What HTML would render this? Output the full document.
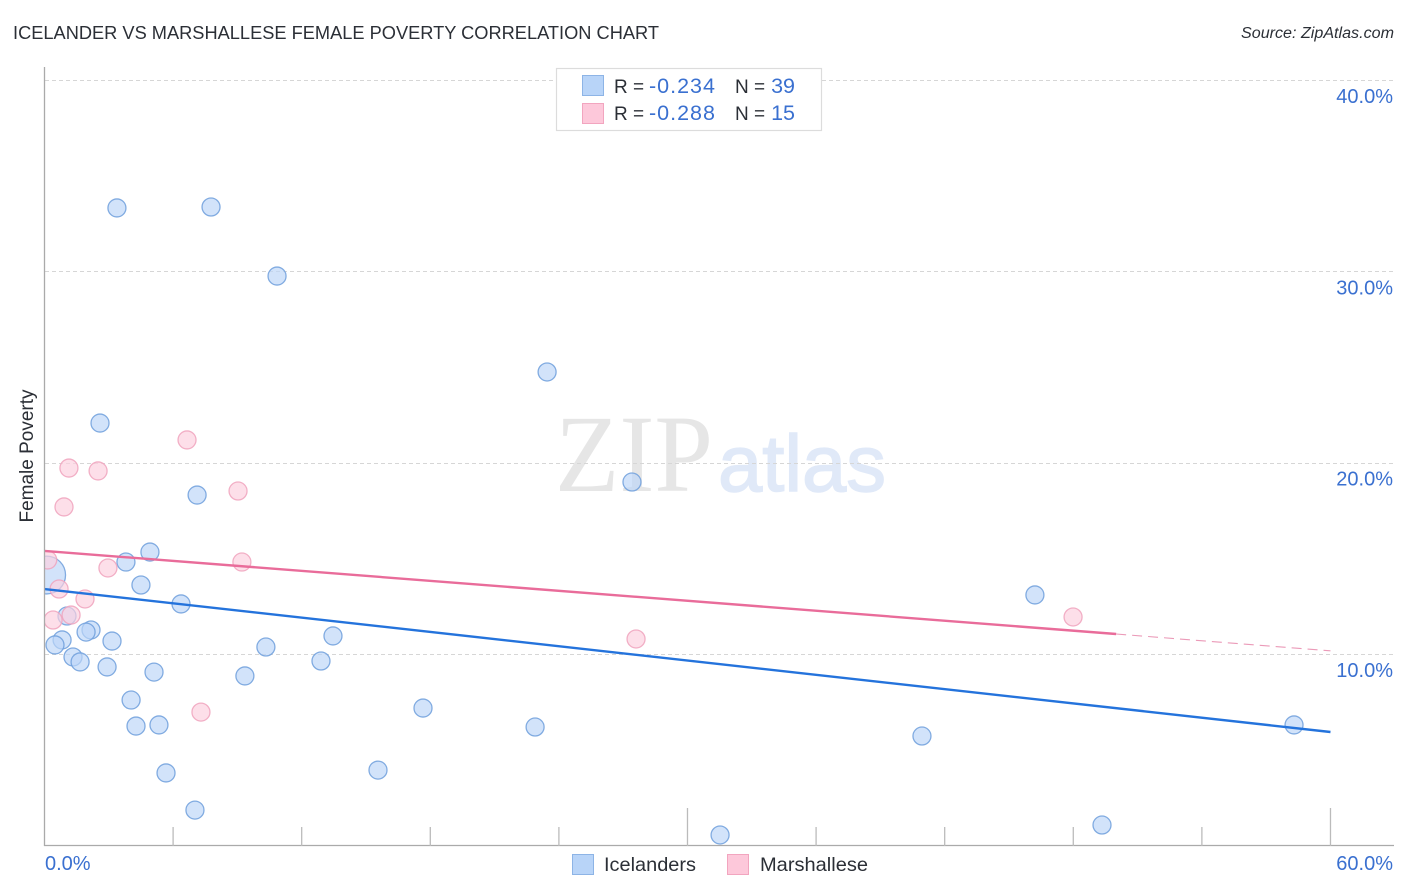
<!DOCTYPE html>
<html>
<head>
<meta charset="utf-8">
<title>Icelander vs Marshallese Female Poverty Correlation Chart</title>
<style>
html,body{margin:0;padding:0;background:#fff;}
body{width:1406px;height:892px;overflow:hidden;}
svg{display:block;font-family:"Liberation Sans",sans-serif;}
</style>
</head>
<body>
<svg id="chart" width="1406" height="892" viewBox="0 0 1406 892">
  <text x="13" y="39" font-size="18.5" fill="#2b2f36" textLength="646" lengthAdjust="spacingAndGlyphs">ICELANDER VS MARSHALLESE FEMALE POVERTY CORRELATION CHART</text>
  <text x="1394" y="38" font-size="15.5" font-style="italic" fill="#2b2f36" text-anchor="end" textLength="153" lengthAdjust="spacingAndGlyphs">Source: ZipAtlas.com</text>

  <g>
    <text x="555" y="491" font-family="'Liberation Serif',serif" font-size="110" fill="#e6e6e6" textLength="158" lengthAdjust="spacingAndGlyphs">ZIP</text>
    <text x="718" y="491" font-family="'Liberation Sans',sans-serif" font-size="80" fill="#e0e9f8" stroke="#e0e9f8" stroke-width="1.5" textLength="168" lengthAdjust="spacingAndGlyphs">atlas</text>
  </g>

  <g id="grid"></g>
  <g id="blue-points"></g>
  <g id="pink-points"></g>
  <g id="trends"></g>
  <g id="axes"></g>
  <g id="ylabels"></g>
  <g id="xlabels"></g>

  <text transform="translate(33,456) rotate(-90)" font-size="19" fill="#2b2f36" text-anchor="middle">Female Poverty</text>

  <g>
    <rect x="556.5" y="68.5" width="265" height="62" fill="#fff" stroke="#dcdcdc" stroke-width="1.2"/>
    <rect x="582.5" y="75.5" width="21" height="20" fill="#b8d4f8" stroke="#8db4e6"/>
    <rect x="582.5" y="103.5" width="21" height="20" fill="#fdc8da" stroke="#f2a5bf"/>
    <g font-size="21.5">
      <text x="614" y="93" font-size="19" fill="#2b2f36">R =</text>
      <text x="649" y="93" fill="#3a70d0" letter-spacing="1">-0.234</text>
      <text x="735" y="93" font-size="19" fill="#2b2f36">N =</text>
      <text x="795" y="93" fill="#3a70d0" text-anchor="end">39</text>
      <text x="614" y="120" font-size="19" fill="#2b2f36">R =</text>
      <text x="649" y="120" fill="#3a70d0" letter-spacing="1">-0.288</text>
      <text x="735" y="120" font-size="19" fill="#2b2f36">N =</text>
      <text x="795" y="120" fill="#3a70d0" text-anchor="end">15</text>
    </g>
  </g>

  <g>
    <rect x="572.5" y="854.5" width="21" height="20" fill="#b8d4f8" stroke="#8db4e6"/>
    <text x="604" y="871" font-size="19.5" fill="#2b2f36" textLength="92" lengthAdjust="spacingAndGlyphs">Icelanders</text>
    <rect x="727.5" y="854.5" width="21" height="20" fill="#fdc8da" stroke="#f2a5bf"/>
    <text x="760" y="871" font-size="19.5" fill="#2b2f36" textLength="108" lengthAdjust="spacingAndGlyphs">Marshallese</text>
  </g>
</svg>
<script>
const yTicks = [10, 20, 30, 40];
const xMinorTicks = [0, 6, 12, 18, 24, 30, 36, 42, 48, 54, 60];
const xMajorTicks = [30, 60];
const xLabels = ["0.0%", "60.0%"];
const yLabels = ["10.0%", "20.0%", "30.0%", "40.0%"];

const icelandersX = [3.38,7.77,10.85,23.45,2.59,27.41,7.12,4.92,3.80,4.50,6.37,46.21,1.05,2.17,1.94,0.82,3.15,0.49,10.33,13.46,1.33,1.66,12.90,2.92,5.11,9.35,4.04,17.66,4.27,5.34,22.89,40.94,58.30,15.56,5.67,7.02,31.52,49.34,0.10];
const icelandersY = [33.31,33.36,29.75,24.74,22.07,18.99,18.31,15.33,14.81,13.61,12.62,13.09,11.99,11.26,11.15,10.74,10.68,10.48,10.37,10.95,9.85,9.59,9.64,9.33,9.06,8.86,7.60,7.18,6.24,6.30,6.19,5.72,6.30,3.94,3.79,1.85,0.55,1.07,14.13];
const icelandersWeight = [1,1,1,1,1,1,1,1,1,1,1,1,1,1,1,1,1,1,1,1,1,1,1,1,1,1,1,1,1,1,1,1,1,1,1,1,1,1,2.1];

const marshalleseX = [6.65,1.14,2.50,0.91,9.03,9.21,2.96,0.15,0.68,1.89,1.24,0.40,27.60,47.99,7.30];
const marshalleseY = [21.19,19.72,19.57,17.69,18.52,14.81,14.50,14.92,13.40,12.88,12.04,11.78,10.79,11.94,6.97];

const icelandersTrendX = [0, 60];
const icelandersTrendY = [13.40, 5.93];
const marshalleseTrendX = [0, 50];
const marshalleseTrendY = [15.39, 11.05];
const marshalleseExtX = [50, 60];
const marshalleseExtY = [11.05, 10.17];

const NS = "http://www.w3.org/2000/svg";
const X0 = 44.5, PXX = 21.433, Y0 = 845.5, PXY = 19.14, R = 9;
const xScale = v => X0 + v * PXX;
const yScale = v => Y0 - v * PXY;

function mk(tag, attrs, parent, text) {
  const el = document.createElementNS(NS, tag);
  for (const k of Object.keys(attrs)) el.setAttribute(k, attrs[k]);
  if (text !== undefined) el.textContent = text;
  parent.appendChild(el);
  return el;
}

const defs = mk("defs", {}, document.getElementById("chart"));
const clip = mk("clipPath", {id: "plot-clip"}, defs);
mk("rect", {x: 45, y: 60, width: 1350, height: 786}, clip);

const grid = document.getElementById("grid");
yTicks.forEach(t => {
  const gy = Math.round(yScale(t)) + 0.5;
  const l = mk("line", {x1: 45, x2: 1394, y1: gy, y2: gy, stroke: "#d6d6d6", "stroke-width": 1, "stroke-dasharray": "4 3"}, grid);
  
  
});

function drawPoints(gId, xs, ys, fill, stroke, weights, name) {
  const g = document.getElementById(gId);
  g.setAttribute("clip-path", "url(#plot-clip)");
  xs.forEach((x, i) => {
    const c = mk("circle", {cx: xScale(x), cy: yScale(ys[i]), r: R * (weights ? weights[i] : 1), fill: fill, "fill-opacity": 0.68, stroke: stroke, "stroke-opacity": 0.85, "stroke-width": 1.3}, g);
    
    
  });
}
drawPoints("blue-points", icelandersX, icelandersY, "#bcd5f7", "#6f9fdc", icelandersWeight, "icelanders-point");
drawPoints("pink-points", marshalleseX, marshalleseY, "#fcd0df", "#f0a3bd", null, "marshallese-point");

const trends = document.getElementById("trends");
const t1 = mk("line", {x1: xScale(icelandersTrendX[0]), y1: yScale(icelandersTrendY[0]), x2: xScale(icelandersTrendX[1]), y2: yScale(icelandersTrendY[1]), stroke: "#2473dc", "stroke-width": 2.4}, trends);


const t2 = mk("line", {x1: xScale(marshalleseTrendX[0]), y1: yScale(marshalleseTrendY[0]), x2: xScale(marshalleseTrendX[1]), y2: yScale(marshalleseTrendY[1]), stroke: "#e96c9a", "stroke-width": 2.4}, trends);


const t3 = mk("line", {x1: xScale(marshalleseExtX[0]), y1: yScale(marshalleseExtY[0]), x2: xScale(marshalleseExtX[1]), y2: yScale(marshalleseExtY[1]), stroke: "#eb9ab8", "stroke-width": 1.1, "stroke-dasharray": "10 6"}, trends);



const axes = document.getElementById("axes");
const ya = mk("line", {x1: 44.5, x2: 44.5, y1: 67, y2: 846, stroke: "#aaaaaa", "stroke-width": 1.3}, axes);


const xa = mk("line", {x1: 44, x2: 1394, y1: 845.5, y2: 845.5, stroke: "#aaaaaa", "stroke-width": 1.3}, axes);


xMinorTicks.forEach(t => {
  if (t === 0) return;
  const top = xMajorTicks.includes(t) ? 808 : 827;
  const l = mk("line", {x1: xScale(t), x2: xScale(t), y1: top, y2: 846, stroke: "#bbbbbb", "stroke-width": 1.3}, axes);
  
  
});

const yl = document.getElementById("ylabels");
yLabels.forEach((s, i) => {
  const t = mk("text", {x: 1393, y: yScale(yTicks[i]) + 23, "font-size": 20, fill: "#3a70d0", "text-anchor": "end"}, yl, s);
  
  
});

const xl = document.getElementById("xlabels");
const x0Label = mk("text", {x: 45, y: 870, "font-size": 20, fill: "#3a70d0"}, xl, xLabels[0]);


const x1Label = mk("text", {x: 1393, y: 870, "font-size": 20, fill: "#3a70d0", "text-anchor": "end"}, xl, xLabels[1]);


</script>
</body>
</html>
